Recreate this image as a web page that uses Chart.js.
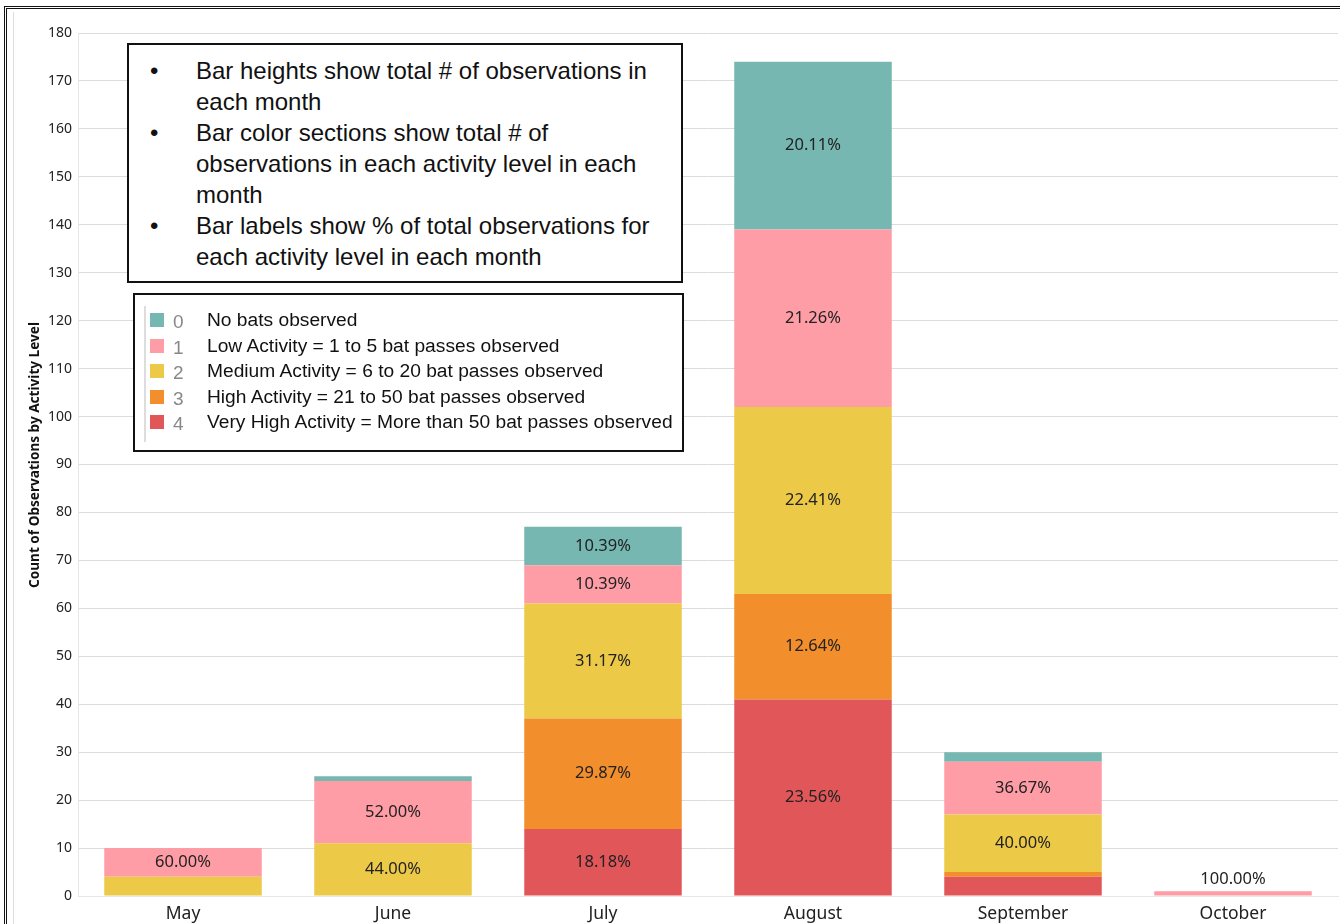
<!DOCTYPE html>
<html lang="en">
<head>
  <meta charset="UTF-8">
  <title>Bat activity by month</title>
  <script src="https://cdn.jsdelivr.net/npm/chart.js"></script>
  <style>
    html, body { margin: 0; padding: 0; background: #fff; }
    #wrap { position: relative; width: 1340px; height: 924px; overflow: hidden; }
    #frame { position: absolute; left: 4px; top: 6px; width: 1400px; height: 1000px; border: 3px double #111; box-sizing: border-box; }
    #inner { position: absolute; left: 13px; top: 12px; width: 1px; height: 920px; background: #ddd; }
    canvas { position: absolute; left: 0; top: 0; }
    .box { position: absolute; background: #fff; border: 2px solid #111; box-sizing: border-box;
           font-family: "Liberation Sans", Arial, sans-serif; color: #111; }
    #notes { left: 127px; top: 43px; width: 556px; height: 240px; font-size: 24px; line-height: 31px; padding: 10px 0 0 0; }
    #notes ul { margin: 0; padding: 0 0 0 67px; list-style: none; width: 472px; }
    #notes li { position: relative; }
    #notes li::before { content: "\2022"; position: absolute; left: -46px; top: 0; }
    #legend { left: 133px; top: 293px; width: 551px; height: 159px; font-size: 19.2px; }
    #legend .bar { position: absolute; left: 9px; top: 11px; width: 2px; height: 136px; background: #ddd; }
    #legend .row { position: absolute; left: 15px; height: 24px; line-height: 24px; white-space: nowrap; }
    #legend .sw { position: absolute; left: 0; top: 5px; width: 14px; height: 14px; }
    #legend .num { position: absolute; left: 23px; top: 2px; color: #888; font-size: 19px; }
    #legend .txt { position: absolute; left: 57px; top: 0; }
  </style>
</head>
<body>
<div id="wrap">
  <canvas id="batChart" width="1340" height="924"></canvas>
  <div id="frame"></div>
  <div id="inner"></div>
  <div id="notes" class="box">
    <ul>
      <li>Bar heights show total # of observations in each month</li>
      <li>Bar color sections show total # of observations in each activity level in each month</li>
      <li>Bar labels show % of total observations for each activity level in each month</li>
    </ul>
  </div>
  <div id="legend" class="box"><div class="bar"></div></div>
</div>

<script>
  const months = ['May', 'June', 'July', 'August', 'September', 'October'];

  // counts per activity level (0 = none ... 4 = very high)
  const noBats    = [0, 1, 8, 35, 2, 0];
  const lowAct    = [6, 13, 8, 37, 11, 1];
  const mediumAct = [4, 11, 24, 39, 12, 0];
  const highAct   = [0, 0, 23, 22, 1, 0];
  const veryHigh  = [0, 0, 14, 41, 4, 0];

  const levelNames = [
    'No bats observed',
    'Low Activity = 1 to 5 bat passes observed',
    'Medium Activity = 6 to 20 bat passes observed',
    'High Activity = 21 to 50 bat passes observed',
    'Very High Activity = More than 50 bat passes observed'
  ];
  const levelColors = ['#76B7B2', '#FF9DA7', '#EDC948', '#F28E2B', '#E15759'];
  const yTicks = { min: 0, max: 180, step: 10 };
  const yTitle = 'Count of Observations by Activity Level';

  // legend box
  const legendEl = document.getElementById('legend');
  levelNames.forEach((name, i) => {
    const row = document.createElement('div');
    row.className = 'row';
    row.style.top = (13 + i * 25.5) + 'px';
    row.innerHTML = '<span class="sw" style="background:' + levelColors[i] + '"></span>' +
      '<span class="num">' + i + '</span><span class="txt">' + name + '</span>';
    legendEl.appendChild(row);
  });

  const levels = [veryHigh, highAct, mediumAct, lowAct, noBats];
  const levelIdx = [4, 3, 2, 1, 0];
  const totals = months.map((m, j) => levels.reduce((s, arr) => s + arr[j], 0));

  const pctLabels = {
    id: 'pctLabels',
    afterDatasetsDraw(chart) {
      const c = chart.ctx;
      c.save();
      c.font = '16.5px "Noto Sans", sans-serif';
      c.fillStyle = '#222';
      c.textAlign = 'center';
      c.textBaseline = 'middle';
      chart.data.datasets.forEach((ds, di) => {
        const meta = chart.getDatasetMeta(di);
        meta.data.forEach((bar, j) => {
          const v = ds.data[j];
          if (!v) return;
          const pct = (v / totals[j] * 100).toFixed(2) + '%';
          const h = Math.abs(bar.base - bar.y);
          if (h >= 20) {
            c.fillText(pct, bar.x, (bar.y + bar.base) / 2);
          } else if (v === totals[j]) {
            c.fillText(pct, bar.x, bar.y - 12);
          }
        });
      });
      // y axis title
      c.translate(35, 455);
      c.rotate(-Math.PI / 2);
      c.font = 'bold 13.6px "Noto Sans", sans-serif';
      c.fillStyle = '#111';
      c.fillText(yTitle, 0, 0);
      c.restore();
    }
  };

  new Chart(document.getElementById('batChart'), {
    type: 'bar',
    data: {
      labels: months,
      datasets: levels.map((arr, k) => ({
        label: levelNames[levelIdx[k]],
        data: arr,
        backgroundColor: levelColors[levelIdx[k]],
        barPercentage: 0.75,
        categoryPercentage: 1.0,
        borderWidth: 0
      }))
    },
    options: {
      responsive: false,
      animation: false,
      layout: { padding: { left: 22, top: 33, right: 2, bottom: 0 } },
      plugins: { legend: { display: false }, tooltip: { enabled: false } },
      scales: {
        x: {
          stacked: true,
          grid: { display: false },
          border: { color: '#e6e6e6' },
          ticks: { color: '#222', font: { family: 'Noto Sans', size: 17.5 }, padding: 0 },
          afterFit(scale) { scale.height = 28; }
        },
        y: {
          stacked: true,
          min: yTicks.min,
          max: yTicks.max,
          ticks: { stepSize: yTicks.step, color: '#222', font: { family: 'Noto Sans', size: 14 }, padding: 6 },
          grid: { color: '#dcdcdc', drawTicks: false },
          border: { color: '#e6e6e6' },
          afterFit(scale) { scale.width = 56; }
        }
      }
    },
    plugins: [pctLabels]
  });
</script>
</body>
</html>
